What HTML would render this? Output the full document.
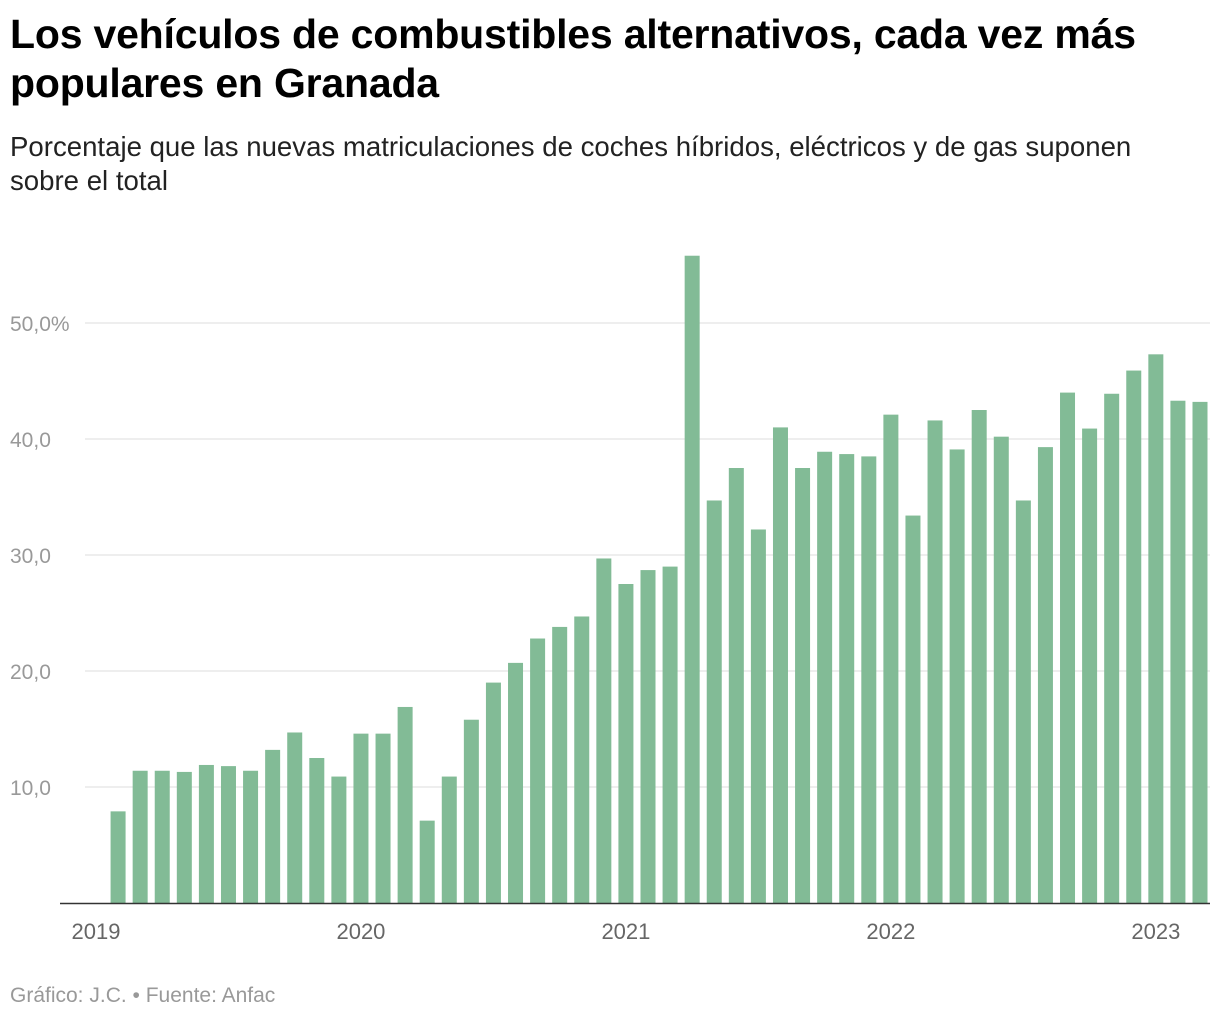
<!DOCTYPE html>
<html><head><meta charset="utf-8"><style>
body{margin:0;width:1220px;height:1020px;background:#fff;font-family:"Liberation Sans",sans-serif;overflow:hidden;position:relative}
.t{position:absolute;left:10px;top:10px;font-size:41px;font-weight:bold;line-height:49px;color:#000;width:1200px;letter-spacing:-0.2px}
.s{position:absolute;left:10px;top:130px;font-size:27.6px;line-height:34px;color:#222;width:1160px}
.f{position:absolute;left:10px;top:984px;font-size:21px;color:#999}
</style></head><body>
<div class="t">Los vehículos de combustibles alternativos, cada vez más populares en Granada</div>
<div class="s">Porcentaje que las nuevas matriculaciones de coches híbridos, eléctricos y de gas suponen sobre el total</div>
<svg id="c" width="1220" height="1020" style="position:absolute;left:0;top:0"></svg>
<div class="f">Gráfico: J.C. • Fuente: Anfac</div>
<script>
const values=[7.9,11.4,11.4,11.3,11.9,11.8,11.4,13.2,14.7,12.5,10.9,14.6,14.6,16.9,7.1,10.9,15.8,19.0,20.7,22.8,23.8,24.7,29.7,27.5,28.7,29.0,55.8,34.7,37.5,32.2,41.0,37.5,38.9,38.7,38.5,42.1,33.4,41.6,39.1,42.5,40.2,34.7,39.3,44.0,40.9,43.9,45.9,47.3,43.3,43.2];
const yTicks=[10,20,30,40,50];
const yLabels=["10,0","20,0","30,0","40,0","50,0%"];
const years=["2019","2020","2021","2022","2023"];
const NS="http://www.w3.org/2000/svg",svg=document.getElementById('c');
const y=v=>903-v*11.6;
const xm=i=>96+22.08*i;
function mk(t,a){const e=document.createElementNS(NS,t);for(const k in a)e.setAttribute(k,a[k]);svg.appendChild(e);return e;}
yTicks.forEach((v,i)=>{
 const l=mk('line',{x1:85,x2:1210,y1:y(v),y2:y(v),stroke:'#ddd','stroke-width':1});
 
 
 const t=mk('text',{x:10,y:y(v)+8,'font-size':21,fill:'#999'});
 t.textContent=yLabels[i];
 
 
});
values.forEach((v,i)=>{
 const b=mk('rect',{x:xm(i+1)-7.5,y:y(v),width:15,height:v*11.6,fill:'#82bb96'});
 
 
});
const ax=mk('line',{x1:60,x2:1210,y1:903.5,y2:903.5,stroke:'#333','stroke-width':1.5});


years.forEach((yr,i)=>{
 const t=mk('text',{x:xm(i*12),y:939,'font-size':22,fill:'#666','text-anchor':'middle'});
 t.textContent=yr;
 
 
});
</script>
</body></html>
